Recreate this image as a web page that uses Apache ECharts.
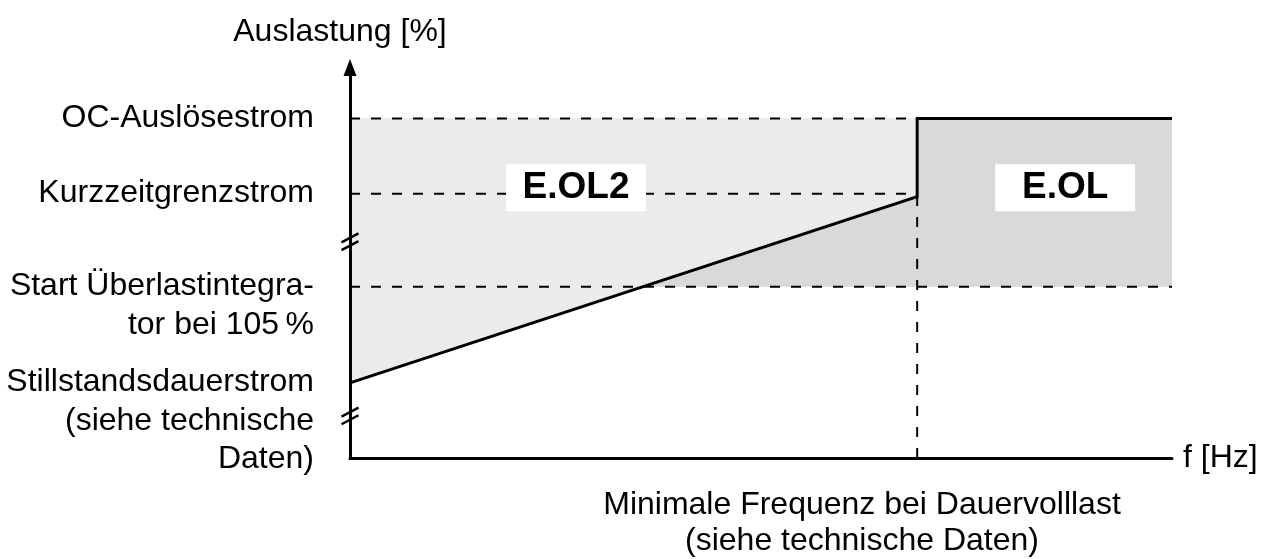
<!DOCTYPE html>
<html>
<head>
<meta charset="utf-8">
<title>Auslastung</title>
<script src="https://cdn.jsdelivr.net/npm/echarts@6/dist/echarts.min.js"></script>
<style>
  html, body { margin: 0; padding: 0; background: #fff; }
  #chart { width: 1285px; height: 559px; }
</style>
</head>
<body>
<div id="chart"></div>
<script>
// Pegel auf der y-Achse (abstrakte Einheiten)
const levelNames = ['OC-Auslösestrom', 'Kurzzeitgrenzstrom', 'Start Überlastintegra-\ntor bei 105\u2009%', 'Stillstandsdauerstrom\n(siehe technische\nDaten)']
const levelValues = [113, 88, 57, 25]
const yMax = 130

// Frequenzachse
const fMin = 69      // Minimale Frequenz bei Dauervolllast
const fMax = 100
const lineEndAtFmin = 87   // Kennlinie bei fMin

// Zonen-Beschriftungen
const zoneNames = ['E.OL2', 'E.OL']
const zoneX = [27.5, 87]
const zoneY = [90, 90]

// Achsenbrüche
const breakValues = [72, 14]

const oc = levelValues[0], kurz = levelValues[1], start = levelValues[2], still = levelValues[3]

const darkZone = [[0, start], [fMax, start], [fMax, oc], [0, oc]]
const lightZone = [[0, oc], [fMin, oc], [fMin, lineEndAtFmin], [0, still]]
const curve = [[0, still], [fMin, lineEndAtFmin], [fMin, oc], [fMax, oc]]

const font = 'Liberation Sans'
const fontSize = 32
const dash = [10, 11]

function polygonSeries(points, color) {
  return {
    type: 'custom',
    data: [0],
    silent: true,
    z: 1,
    renderItem: function (params, api) {
      return {
        type: 'polygon',
        shape: { points: points.map(p => api.coord(p)) },
        style: { fill: color }
      }
    }
  }
}

function dashedSeries(data) {
  return {
    type: 'line',
    data: data,
    symbol: 'none',
    silent: true,
    z: 3,
    lineStyle: { color: '#000', width: 2, type: dash }
  }
}

const chart = echarts.init(document.getElementById('chart'))
chart.setOption({
  animation: false,
  grid: { left: 350, right: 113, top: 67.5, bottom: 101, containLabel: false, outerBoundsMode: 'none' },
  xAxis: {
    type: 'value', min: 0, max: fMax, z: 10,
    axisLine: { lineStyle: { color: '#000', width: 3 } },
    axisTick: { show: false }, axisLabel: { show: false }, splitLine: { show: false },
    name: 'f [Hz]', nameLocation: 'end', nameGap: 11,
    nameTextStyle: { fontFamily: font, fontSize: fontSize, color: '#000', verticalAlign: 'middle' }
  },
  yAxis: {
    type: 'value', min: 0, max: yMax, z: 10,
    axisLine: { lineStyle: { color: '#000', width: 3 }, symbol: ['none', 'triangle'], symbolSize: [13, 17] },
    axisTick: { show: false }, axisLabel: { show: false }, splitLine: { show: false },
    name: 'Auslastung [%]', nameLocation: 'end', nameGap: 19,
    nameTextStyle: { fontFamily: font, fontSize: fontSize, color: '#000', padding: [0, 20, 0, 0] }
  },
  graphic: [{
    type: 'text', x: 862, y: 487, silent: true,
    style: {
      text: 'Minimale Frequenz bei Dauervolllast\n(siehe technische Daten)',
      font: fontSize + 'px "Liberation Sans"', fill: '#000',
      textAlign: 'center', textVerticalAlign: 'top', lineHeight: 36
    }
  }],
  series: [
    polygonSeries(darkZone, '#d9d9d9'),
    polygonSeries(lightZone, '#ebebeb'),
    dashedSeries([[0, oc], [fMin, oc]]),
    dashedSeries([[0, kurz], [fMin, kurz]]),
    dashedSeries([[0, start], [fMax, start]]),
    dashedSeries([[fMin, 0], [fMin, lineEndAtFmin]]),
    {
      type: 'line', data: curve, symbol: 'none', silent: true, z: 4,
      lineStyle: { color: '#000', width: 3, join: 'miter' }
    },
    {
      // Achsenbruch-Markierungen
      type: 'custom', data: breakValues.map(v => [0, v]), silent: true, z: 12,
      renderItem: function (params, api) {
        const c = api.coord([api.value(0), api.value(1)])
        const children = [-3.8, 3.8].map(d => ({
          type: 'line',
          shape: { x1: c[0] - 8.5, y1: c[1] + d + 4.5, x2: c[0] + 8.5, y2: c[1] + d - 4.5 },
          style: { stroke: '#000', lineWidth: 2.5 }
        }))
        return { type: 'group', children: children }
      }
    },
    {
      // Beschriftung der Pegel
      type: 'scatter', symbolSize: 0, silent: true, z: 12,
      itemStyle: { opacity: 1 },
      data: levelValues.map((v, i) => ({ value: [0, v], name: levelNames[i] })),
      label: {
        show: true, position: 'left', distance: 36, formatter: '{b}',
        align: 'right', verticalAlign: 'top', offset: [0, -19.5], lineHeight: 38.5,
        fontFamily: font, fontSize: fontSize, color: '#000', opacity: 1
      }
    },
    {
      // Zonen E.OL2 / E.OL
      type: 'scatter', symbolSize: 0, silent: true, z: 12,
      itemStyle: { opacity: 1 },
      data: zoneNames.map((n, i) => ({ value: [zoneX[i], zoneY[i]], name: n })),
      label: {
        show: true, position: 'inside', formatter: '{b}',
        backgroundColor: '#fff', width: 140, height: 47, lineHeight: 47,
        align: 'center', verticalAlign: 'middle', opacity: 1,
        fontFamily: font, fontSize: 37, fontWeight: 'bold', color: '#000'
      }
    }
  ]
})
</script>
</body>
</html>
